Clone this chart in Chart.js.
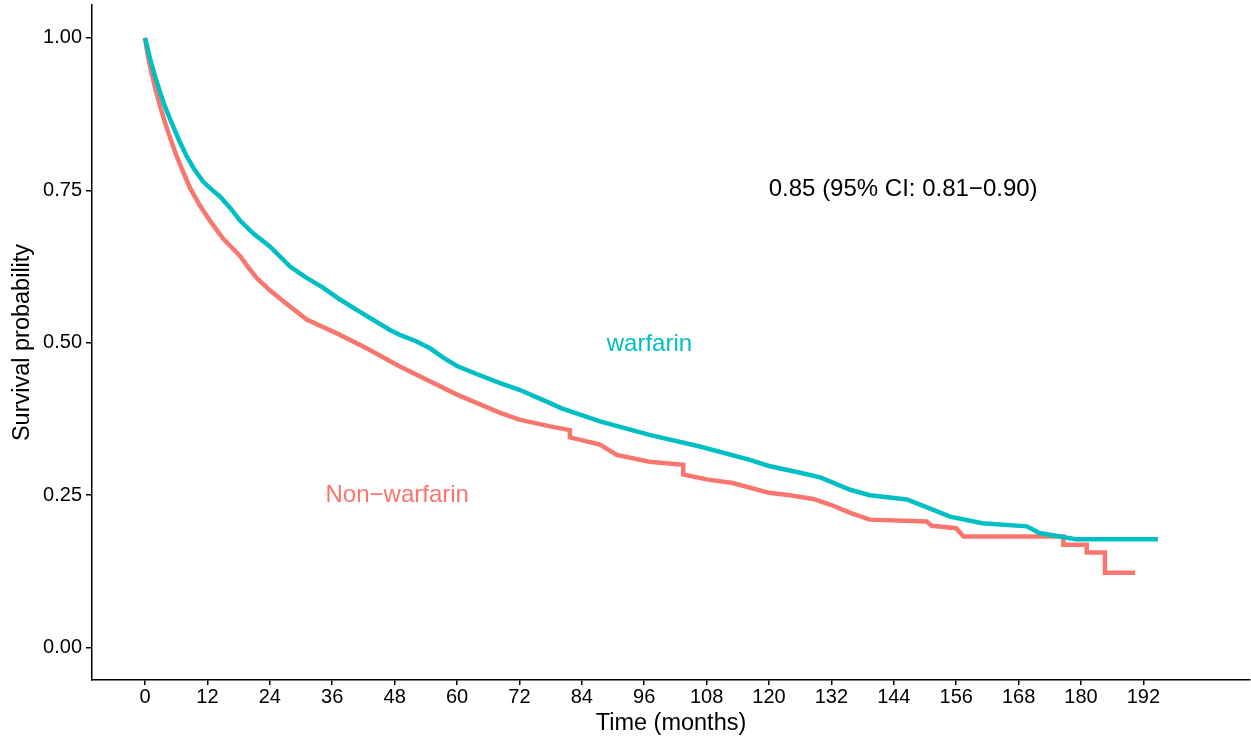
<!DOCTYPE html>
<html>
<head>
<meta charset="utf-8">
<script src="https://cdn.jsdelivr.net/npm/chart.js@4.4.1/dist/chart.umd.min.js"></script>
<style>
  html, body { margin: 0; padding: 0; background: #fff; }
  #wrap { width: 1251px; height: 742px; }
</style>
</head>
<body>
<div id="wrap"><canvas id="kmChart" width="1251" height="742"></canvas></div>
<script>
// Kaplan-Meier curves (time in months, survival probability)
const warfarinTime = [0, 1, 2, 3, 4, 5, 6.5, 8, 9.5, 11.2, 13, 14.4, 16.5, 18.3, 21, 24, 27.9, 31, 34.3, 37.5, 40.7, 44, 47.1, 49, 52, 54.8, 57.5, 60, 64, 68.3, 72, 77.9, 80, 87.5, 97, 106.7, 116.3, 120, 126, 130, 135.6, 139.4, 146.5, 151.6, 154.8, 161, 169.6, 172, 179, 194.8];
const warfarinSurv = [1.0, 0.965, 0.935, 0.908, 0.884, 0.863, 0.833, 0.806, 0.784, 0.764, 0.750, 0.740, 0.720, 0.700, 0.678, 0.658, 0.625, 0.607, 0.590, 0.571, 0.554, 0.537, 0.521, 0.513, 0.503, 0.491, 0.475, 0.462, 0.448, 0.434, 0.423, 0.401, 0.393, 0.371, 0.349, 0.330, 0.308, 0.298, 0.287, 0.279, 0.259, 0.250, 0.243, 0.226, 0.215, 0.204, 0.199, 0.188, 0.178, 0.178];

const nonWarfarinTime = [0, 0.5, 1, 2, 3, 4, 5, 6, 7, 8.65, 10.5, 12.5, 15, 18.3, 20, 21.5, 24, 26.6, 31.1, 37.5, 42.6, 49, 60, 68.3, 72, 77.9, 81.7, 81.7, 87.5, 90.7, 97, 103.5, 103.5, 108, 113, 120, 124, 128.5, 132, 135.6, 139.4, 150.3, 151.3, 156, 157.4, 176.6, 176.6, 181.1, 181.1, 184.6, 184.6, 190.4];
const nonWarfarinSurv = [1.0, 0.972, 0.952, 0.916, 0.885, 0.857, 0.832, 0.808, 0.787, 0.754, 0.726, 0.700, 0.671, 0.642, 0.622, 0.606, 0.586, 0.568, 0.538, 0.513, 0.491, 0.461, 0.415, 0.385, 0.374, 0.363, 0.357, 0.345, 0.333, 0.316, 0.305, 0.300, 0.284, 0.276, 0.270, 0.254, 0.250, 0.244, 0.234, 0.221, 0.210, 0.207, 0.200, 0.196, 0.1825, 0.1825, 0.169, 0.169, 0.156, 0.156, 0.123, 0.123];

const xTickValues = [0, 12, 24, 36, 48, 60, 72, 84, 96, 108, 120, 132, 144, 156, 168, 180, 192];
const yTickValues = [0, 0.25, 0.5, 0.75, 1];

const colors = {
  warfarin: '#00BFC4',
  nonWarfarin: '#F8766D',
  axis: '#000000'
};

// text drawn inside the panel, anchored in data units
const panelLabels = [
  { text: '0.85 (95% CI: 0.81\u22120.90)', t: 145.8, s: 0.751, color: '#000000' },
  { text: 'warfarin', t: 97, s: 0.498, color: colors.warfarin },
  { text: 'Non\u2212warfarin', t: 48.5, s: 0.25, color: colors.nonWarfarin }
];

const toPoints = (xs, ys) => xs.map((x, i) => ({ x: x, y: ys[i] }));

const panelText = {
  id: 'panelText',
  afterDatasetsDraw(chart) {
    const { ctx, scales } = chart;
    ctx.save();
    ctx.font = '24px "Liberation Sans", Arial, sans-serif';
    ctx.textAlign = 'center';
    ctx.textBaseline = 'middle';
    panelLabels.forEach(l => {
      ctx.fillStyle = l.color;
      ctx.fillText(l.text, scales.x.getPixelForValue(l.t), scales.y.getPixelForValue(l.s));
    });
    ctx.restore();
  }
};

const tickFont = { family: '"Liberation Sans", Arial, sans-serif', size: 20 };
const titleFont = { family: '"Liberation Sans", Arial, sans-serif', size: 23.5 };

new Chart(document.getElementById('kmChart').getContext('2d'), {
  type: 'line',
  data: {
    datasets: [
      {
        label: 'warfarin',
        data: toPoints(warfarinTime, warfarinSurv),
        borderColor: colors.warfarin,
        borderWidth: 4.5,
        pointRadius: 0,
        tension: 0,
        fill: false
      },
      {
        label: 'Non-warfarin',
        data: toPoints(nonWarfarinTime, nonWarfarinSurv),
        borderColor: colors.nonWarfarin,
        borderWidth: 4.5,
        pointRadius: 0,
        tension: 0,
        fill: false
      }
    ]
  },
  options: {
    responsive: false,
    animation: false,
    layout: { padding: { top: 5, right: 1, left: 0, bottom: 0 } },
    plugins: {
      legend: { display: false },
      tooltip: { enabled: false }
    },
    scales: {
      x: {
        type: 'linear',
        min: -10.2,
        max: 212.5,
        afterBuildTicks: s => { s.ticks = xTickValues.map(v => ({ value: v })); },
        afterFit: s => { s.height = 62; s.paddingLeft = 0; s.paddingRight = 0; },
        ticks: { color: '#000', font: tickFont, padding: 0, maxRotation: 0, autoSkip: false },
        grid: { drawOnChartArea: false, drawTicks: true, tickLength: 5, color: colors.axis, lineWidth: 1.5 },
        border: { display: true, color: colors.axis, width: 1.5 },
        title: { display: true, text: 'Time (months)', color: '#000', font: titleFont, padding: { top: 0, bottom: 4 } }
      },
      y: {
        type: 'linear',
        min: -0.053,
        max: 1.054,
        afterBuildTicks: s => { s.ticks = yTickValues.map(v => ({ value: v })); },
        afterFit: s => { s.width = 92; s.paddingTop = 0; s.paddingBottom = 0; },
        ticks: { color: '#000', font: tickFont, padding: 4, callback: v => v.toFixed(2) },
        grid: { drawOnChartArea: false, drawTicks: true, tickLength: 6, color: colors.axis, lineWidth: 1.5 },
        border: { display: true, color: colors.axis, width: 1.5 },
        title: { display: true, text: 'Survival probability', color: '#000', font: titleFont, padding: { top: 8, bottom: 0 } }
      }
    }
  },
  plugins: [panelText]
});
</script>
</body>
</html>
